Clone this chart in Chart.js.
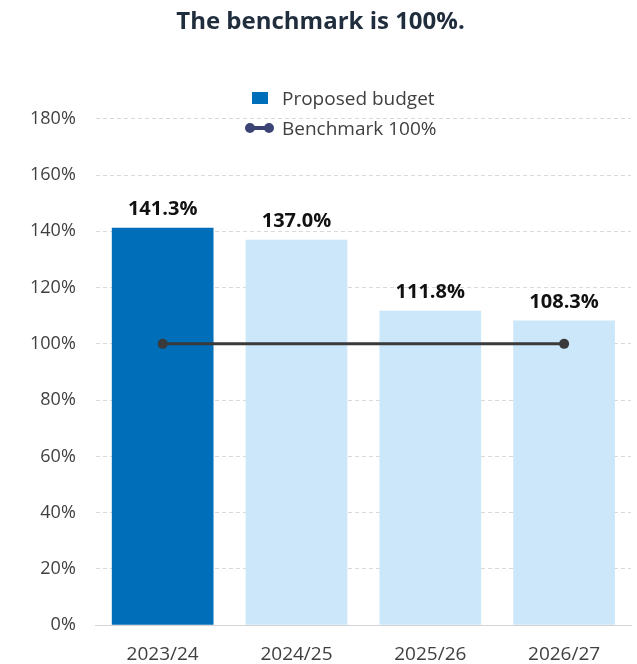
<!DOCTYPE html>
<html>
<head>
<meta charset="utf-8">
<script src="https://cdn.jsdelivr.net/npm/chart.js@4.4.1/dist/chart.umd.min.js"></script>
<style>
  html, body { margin:0; padding:0; background:#fff; overflow:hidden; }
  #wrap { position:relative; width:637px; height:664px; overflow:hidden; }
  #legend { position:absolute; left:247px; top:83px; font-family:"Open Sans", sans-serif; font-size:19px; color:#404040; }
  .li { display:flex; align-items:center; height:30px; }
  .sw { width:25px; height:14px; margin-right:10px; position:relative; }
  .box { position:absolute; left:5px; top:1px; width:16px; height:12px; background:#006EB8; }
  .ln { position:absolute; left:0; top:5px; width:25px; height:4px; background:#3b4475; }
  .dt { position:absolute; top:2px; width:10px; height:10px; border-radius:50%; background:#3b4475; }
</style>
</head>
<body>
<div id="wrap">
  <canvas id="c" width="637" height="676"></canvas>
  <div id="legend">
    <div class="li"><div class="sw"><div class="box"></div></div><span>Proposed budget</span></div>
    <div class="li"><div class="sw"><div class="ln"></div><div class="dt" style="left:-2px"></div><div class="dt" style="left:17px"></div></div><span>Benchmark 100%</span></div>
  </div>
</div>
<script>
const categories = ["2023/24", "2024/25", "2025/26", "2026/27"];
const proposedBudget = [141.3, 137.0, 111.8, 108.3];
const benchmark = [100, 100, 100, 100];
const yTicks = [0, 20, 40, 60, 80, 100, 120, 140, 160, 180];
const barColors = ["#006EB8", "#CCE7FA", "#CCE7FA", "#CCE7FA"];

const labelPlugin = {
  id: 'barLabels',
  afterDatasetsDraw(chart) {
    const ctx = chart.ctx;
    const meta = chart.getDatasetMeta(1);
    ctx.save();
    ctx.font = 'bold 20px "Open Sans", sans-serif';
    ctx.fillStyle = '#111';
    ctx.textAlign = 'center';
    ctx.textBaseline = 'bottom';
    meta.data.forEach((el, i) => {
      ctx.fillText(proposedBudget[i].toFixed(1) + '%', el.x, el.y - 8);
    });
    ctx.restore();
  }
};

new Chart(document.getElementById('c'), {
  data: {
    labels: categories,
    datasets: [
      {
        type: 'line',
        label: 'Benchmark 100%',
        data: benchmark,
        borderColor: '#3a3a3a',
        backgroundColor: '#3a3a3a',
        borderWidth: 3,
        pointRadius: [5, 0, 0, 5],
        pointBackgroundColor: '#3a3a3a',
        pointBorderWidth: 0,
        order: 0
      },
      {
        type: 'bar',
        label: 'Proposed budget',
        data: proposedBudget,
        backgroundColor: barColors,
        categoryPercentage: 1.0,
        barPercentage: 0.76,
        order: 1
      }
    ]
  },
  options: {
    responsive: false,
    animation: false,
    layout: { padding: { left: 10, right: 6, top: 0, bottom: 0 } },
    plugins: {
      legend: { display: false },
      tooltip: { enabled: false },
      title: {
        display: true,
        text: 'The benchmark is 100%.',
        color: '#1f2d3d',
        font: { family: '"Open Sans", sans-serif', size: 24, weight: 'bold' },
        padding: { top: 8, bottom: 82 }
      }
    },
    scales: {
      x: {
        grid: { display: false },
        border: { display: true, color: '#d4d4d4', width: 1 },
        ticks: { color: '#404040', font: { family: '"Open Sans", sans-serif', size: 19 }, padding: 10 }
      },
      y: {
        min: 0, max: 180,
        afterBuildTicks(axis) { axis.ticks = yTicks.map(v => ({ value: v })); },
        grid: { color: '#d9d9d9', drawTicks: false },
        border: { display: false, dash: [4, 3] },
        ticks: { color: '#404040', font: { family: '"Open Sans", sans-serif', size: 18 }, padding: 20, callback: v => v + '%' }
      }
    }
  },
  plugins: [labelPlugin]
});
</script>
</body>
</html>
